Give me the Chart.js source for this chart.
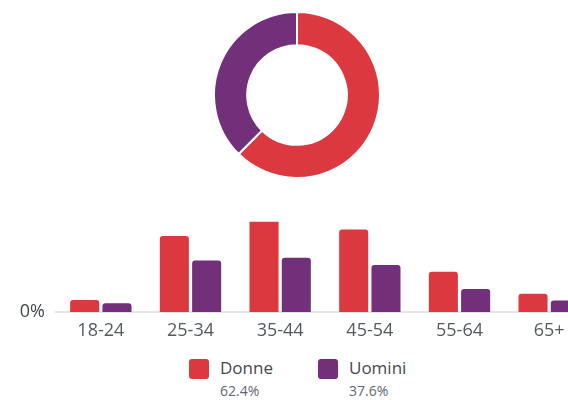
<!DOCTYPE html>
<html>
<head>
<meta charset="utf-8">
<script src="https://cdn.jsdelivr.net/npm/chart.js@4.4.0/dist/chart.umd.min.js"></script>
<style>
  html, body { margin: 0; padding: 0; background: #fff; overflow: hidden; }
  body { width: 568px; height: 400px; position: relative; font-family: "Open Sans", "Noto Sans", sans-serif; }
  #donutWrap { position: absolute; left: 213px; top: 11px; width: 168px; height: 168px; }
  #barWrap { position: absolute; left: 0; top: 200px; width: 594px; height: 152px; }
  .legend { position: absolute; top: 358px; }
  .legend .sw { position: absolute; left: 0; top: 1px; width: 20px; height: 20px; border-radius: 3px; }
  .legend .name { position: absolute; left: 31px; top: -2px; font-size: 17px; color: #444950; white-space: nowrap; }
  .legend .pct { position: absolute; left: 31px; top: 23px; font-size: 14px; color: #606770; white-space: nowrap; }
</style>
</head>
<body>
<div id="donutWrap"><canvas id="donutChart"></canvas></div>
<div id="barWrap"><canvas id="barChart"></canvas></div>
<div id="legend"></div>
<script>
// Age groups and share of audience (%)
const ageGroups = ['18-24', '25-34', '35-44', '45-54', '55-64', '65+'];
const seriesNames = ['Donne', 'Uomini'];
const donne = [2.3, 14.6, 18.5, 15.8, 7.7, 3.5];
const uomini = [1.7, 9.9, 10.4, 9.0, 4.4, 2.2];
const totals = [62.4, 37.6];
const colors = ['#dc3840', '#722f7a'];

// Doughnut with the totals
new Chart(document.getElementById('donutChart'), {
    type: 'doughnut',
    data: {
        labels: seriesNames,
        datasets: [{
            data: totals,
            backgroundColor: colors,
            borderColor: '#fff',
            borderWidth: 2
        }]
    },
    options: {
        responsive: true,
        maintainAspectRatio: false,
        animation: false,
        cutout: '60%',
        plugins: { legend: { display: false }, tooltip: { enabled: false } }
    }
});

// Grouped bars by age
new Chart(document.getElementById('barChart'), {
    type: 'bar',
    data: {
        labels: ageGroups,
        datasets: [
            { label: seriesNames[0], data: donne, backgroundColor: colors[0] },
            { label: seriesNames[1], data: uomini, backgroundColor: colors[1] }
        ]
    },
    options: {
        responsive: true,
        maintainAspectRatio: false,
        animation: false,
        layout: { padding: { top: 8, left: 0, right: 0, bottom: 0 } },
        datasets: {
            bar: {
                categoryPercentage: 0.72,
                barPercentage: 0.9,
                borderRadius: { topLeft: 3, topRight: 3 },
                borderSkipped: 'bottom'
            }
        },
        scales: {
            x: {
                grid: { display: false, drawTicks: false },
                border: { display: true, color: '#e6e6e6', width: 2 },
                ticks: { color: '#555a60', padding: 8, font: { family: '"Open Sans"', size: 18 } },
                afterFit: s => { s.height = 40; }
            },
            y: {
                min: 0,
                max: 17.3,
                grid: { display: false, drawTicks: false },
                border: { display: false },
                afterBuildTicks: s => { s.ticks = [{ value: 0 }]; },
                ticks: {
                    color: '#444950',
                    padding: 11,
                    font: { family: '"Open Sans"', size: 18 },
                    callback: v => v + '%'
                },
                afterFit: s => { s.width = 56; }
            }
        },
        plugins: { legend: { display: false }, tooltip: { enabled: false } }
    }
});

// HTML legend below the bars
const legend = document.getElementById('legend');
const legendX = [189, 318];
seriesNames.forEach((name, i) => {
    const item = document.createElement('div');
    item.className = 'legend';
    item.style.left = legendX[i] + 'px';
    item.innerHTML = '<div class="sw" style="background:' + colors[i] + '"></div>' +
        '<div class="name">' + name + '</div>' +
        '<div class="pct">' + totals[i].toFixed(1) + '%</div>';
    legend.appendChild(item);
});
</script>
</body>
</html>
